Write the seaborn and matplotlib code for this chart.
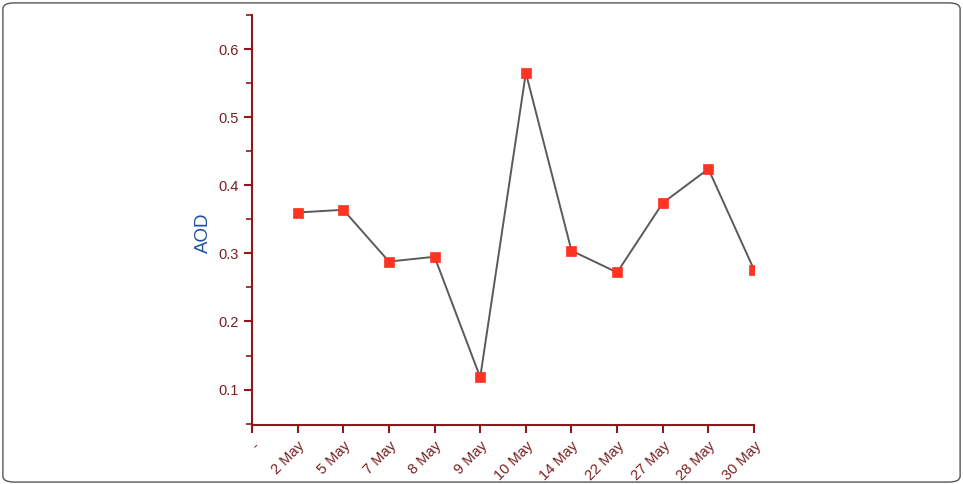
import numpy as np
import pandas as pd
import matplotlib
matplotlib.use("Agg")
import matplotlib.pyplot as plt
import seaborn as sns
from matplotlib.patches import FancyBboxPatch
from matplotlib.ticker import MultipleLocator

# data
dates = ["2 May", "5 May", "7 May", "8 May", "9 May", "10 May",
         "14 May", "22 May", "27 May", "28 May", "30 May"]
aod = [0.360, 0.364, 0.288, 0.295, 0.118, 0.565,
       0.304, 0.272, 0.374, 0.424, 0.276]

df = pd.DataFrame({"pos": np.arange(1, len(dates) + 1), "AOD": aod})

sns.set_style("white")
plt.rcParams["font.family"] = ["Liberation Sans", "DejaVu Sans"]

axis_col = "#8b1a1a"
label_col = "#7a1f1f"

fig = plt.figure(figsize=(9.63, 4.84), dpi=100)
ax = fig.add_axes([0.2617, 0.1219, 0.5213, 0.8471])

sns.lineplot(data=df, x="pos", y="AOD", ax=ax, color="#5a5a5a", lw=1.4,
             marker="s", markersize=7.5, markerfacecolor="#ff3322",
             markeredgecolor="#ff3322", markeredgewidth=0.5)

ax.set_xlim(0, len(dates))
ax.set_ylim(0.048, 0.65)
ax.set_xticks(np.arange(0, len(dates) + 1))
ax.set_xticklabels(["-"] + dates, rotation=45, ha="right",
                   rotation_mode="anchor", color=label_col, fontsize=10.5)
ax.yaxis.set_major_locator(MultipleLocator(0.1))
ax.yaxis.set_minor_locator(MultipleLocator(0.05))
ax.set_yticks(np.arange(0.1, 0.61, 0.1))
ax.set_yticklabels([f"{v:.1f}" for v in np.arange(0.1, 0.61, 0.1)],
                   color=label_col, fontsize=10.5)

for side in ["top", "right"]:
    ax.spines[side].set_visible(False)
for side in ["left", "bottom"]:
    ax.spines[side].set_color(axis_col)
    ax.spines[side].set_linewidth(1.5)

ax.tick_params(axis="both", which="major", direction="out", length=6,
               width=1.5, color=axis_col, left=True, bottom=True)
ax.tick_params(axis="y", which="minor", direction="out", length=4,
               width=1.2, color=axis_col, left=True)
ax.tick_params(axis="x", pad=4)

ax.set_xlabel("")
ax.set_ylabel("AOD", color="#1f4fa0", fontsize=13.5)
ax.yaxis.set_label_coords(-0.08, 0.47)

# rounded frame around the figure
frame = FancyBboxPatch((0.003, 0.004), 0.994, 0.99,
                       boxstyle="round,pad=0,rounding_size=0.012",
                       transform=fig.transFigure, fill=False,
                       edgecolor="#555555", lw=1.0)
fig.patches.append(frame)

fig.savefig("out.png", dpi=100)
